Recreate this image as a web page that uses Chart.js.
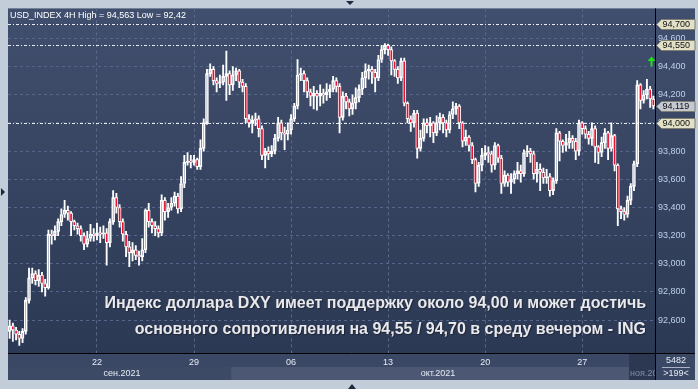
<!DOCTYPE html>
<html><head><meta charset="utf-8">
<script src="https://cdn.jsdelivr.net/npm/chart.js@4.4.1/dist/chart.umd.min.js"></script>
<style>html,body{margin:0;padding:0;background:#c3cdd9;overflow:hidden}canvas{display:block}</style>
</head><body>
<canvas id="c" width="698" height="389" style="width:698px;height:389px"></canvas>
<script>
// ---- DATA (USD_INDEX 4H) ----
const opens=[92.52,92.56,92.53,92.50,92.47,92.52,92.74,92.90,92.93,92.88,
92.92,92.86,92.83,93.21,93.20,93.23,93.30,93.35,93.38,93.36,
93.30,93.27,93.25,93.20,93.14,93.18,93.21,93.20,93.22,93.21,
93.22,93.15,93.30,93.47,93.40,93.30,93.21,93.12,93.08,93.10,
93.06,93.05,93.10,93.38,93.30,93.27,93.25,93.22,93.45,93.37,
93.40,93.43,93.48,93.39,93.57,93.72,93.73,93.72,93.74,93.69,
93.82,94.00,94.35,94.38,94.30,94.28,94.29,94.33,94.35,94.27,
94.34,94.37,94.29,94.26,94.03,94.00,94.02,94.03,93.96,93.77,
93.80,93.78,93.80,93.89,94.00,93.93,93.92,93.95,94.03,94.12,
94.34,94.35,94.30,94.22,94.19,94.21,94.19,94.21,94.20,94.22,
94.24,94.30,94.26,94.04,94.19,94.15,94.10,94.14,94.18,94.24,
94.32,94.37,94.38,94.36,94.32,94.45,94.52,94.55,94.52,94.44,
94.38,94.32,94.44,94.14,94.03,94.00,94.07,93.82,93.89,94.00,
93.98,94.00,93.93,94.00,94.04,94.00,93.95,94.06,94.10,94.12,
94.00,93.87,93.90,93.84,93.74,93.57,93.70,93.77,93.79,93.78,
93.70,93.84,93.75,93.57,93.63,93.58,93.60,93.64,93.66,93.64,
93.79,93.80,93.78,93.64,93.67,93.65,93.61,93.62,93.52,93.59,
93.93,93.87,93.84,93.86,93.89,93.87,93.80,94.00,93.96,93.92,
93.89,93.96,93.83,93.79,93.86,93.93,93.82,93.91,93.70,93.39,
93.37,93.35,93.45,93.55,93.71,94.27,94.16,94.20,94.24,94.17];
const highs=[92.60,92.58,92.55,92.52,92.54,92.76,92.97,92.97,92.95,92.96,
92.94,92.89,93.24,93.24,93.27,93.32,93.39,93.45,93.41,93.37,
93.31,93.29,93.27,93.22,93.23,93.28,93.25,93.29,93.26,93.27,
93.25,93.32,93.52,93.50,93.42,93.32,93.23,93.16,93.15,93.13,
93.09,93.18,93.39,93.43,93.32,93.30,93.27,93.49,93.47,93.43,
93.47,93.51,93.50,93.62,93.77,93.79,93.77,93.77,93.75,93.88,
94.03,94.38,94.42,94.40,94.32,94.34,94.41,94.51,94.37,94.40,
94.39,94.38,94.31,94.28,94.06,94.05,94.07,94.05,93.98,93.82,
93.83,93.84,93.92,94.04,94.02,93.97,94.00,94.06,94.14,94.45,
94.39,94.37,94.32,94.24,94.26,94.23,94.27,94.24,94.28,94.27,
94.33,94.32,94.28,94.22,94.21,94.17,94.20,94.25,94.27,94.36,
94.42,94.41,94.40,94.38,94.48,94.55,94.563,94.56,94.54,94.45,
94.40,94.46,94.46,94.15,94.05,94.09,94.09,93.95,94.03,94.03,
94.04,94.01,94.05,94.07,94.06,94.02,94.08,94.15,94.14,94.13,
94.01,93.95,93.91,93.86,93.75,93.72,93.82,93.84,93.83,93.80,
93.86,93.85,93.77,93.66,93.64,93.64,93.66,93.72,93.70,93.81,
93.84,93.82,93.80,93.72,93.71,93.68,93.67,93.64,93.61,93.96,
93.94,93.88,93.92,93.94,93.91,93.89,94.02,94.01,93.98,93.94,
94.00,93.98,93.84,93.90,93.96,93.94,94.00,93.92,93.71,93.41,
93.40,93.48,93.57,93.73,94.30,94.28,94.23,94.31,94.26,94.19];
const lows=[92.47,92.45,92.46,92.42,92.44,92.50,92.72,92.86,92.85,92.84,
92.80,92.77,92.82,93.14,93.17,93.20,93.27,93.33,93.31,93.20,
93.24,93.21,93.16,93.10,93.12,93.16,93.16,93.17,93.15,93.18,
92.99,93.12,93.28,93.36,93.26,93.16,93.05,92.98,93.02,93.03,
92.99,93.02,93.08,93.26,93.22,93.20,93.19,93.20,93.31,93.33,
93.38,93.41,93.36,93.37,93.54,93.70,93.68,93.70,93.67,93.67,
93.80,93.99,94.33,94.27,94.22,94.25,94.27,94.16,94.20,94.23,
94.30,94.25,94.22,94.00,93.97,93.93,93.98,93.90,93.74,93.68,
93.74,93.76,93.78,93.87,93.88,93.81,93.88,93.92,94.01,94.10,
94.30,94.22,94.18,94.12,94.10,94.09,94.12,94.14,94.16,94.18,
94.22,94.22,93.93,94.02,94.10,94.05,94.06,94.10,94.15,94.20,
94.25,94.31,94.28,94.22,94.30,94.43,94.49,94.48,94.34,94.33,
94.28,94.30,94.12,94.00,93.94,93.97,93.75,93.80,93.87,93.93,
93.90,93.86,93.91,93.95,93.93,93.90,93.93,94.03,94.06,93.96,
93.83,93.84,93.80,93.71,93.51,93.55,93.66,93.74,93.72,93.65,
93.67,93.72,93.50,93.55,93.55,93.50,93.57,93.60,93.58,93.62,
93.76,93.72,93.60,93.58,93.52,93.57,93.57,93.48,93.49,93.57,
93.73,93.79,93.80,93.82,93.82,93.74,93.77,93.92,93.89,93.85,
93.84,93.72,93.71,93.76,93.82,93.74,93.80,93.66,93.27,93.32,
93.31,93.33,93.42,93.52,93.69,94.10,94.14,94.17,94.11,94.10];
const closes=[92.56,92.53,92.50,92.47,92.52,92.74,92.90,92.93,92.88,92.92,
92.86,92.83,93.21,93.20,93.23,93.30,93.35,93.38,93.36,93.30,
93.27,93.25,93.20,93.14,93.18,93.21,93.20,93.22,93.21,93.22,
93.15,93.30,93.47,93.40,93.30,93.21,93.12,93.08,93.10,93.06,
93.05,93.10,93.38,93.30,93.27,93.25,93.22,93.45,93.37,93.40,
93.43,93.48,93.39,93.57,93.72,93.73,93.72,93.74,93.69,93.82,
94.00,94.35,94.38,94.30,94.28,94.29,94.33,94.35,94.27,94.34,
94.37,94.29,94.26,94.03,94.00,94.02,94.03,93.96,93.77,93.80,
93.78,93.80,93.89,94.00,93.93,93.92,93.95,94.03,94.12,94.34,
94.35,94.30,94.22,94.19,94.21,94.19,94.21,94.20,94.22,94.24,
94.30,94.26,94.04,94.19,94.15,94.10,94.14,94.18,94.24,94.32,
94.37,94.38,94.36,94.32,94.45,94.52,94.55,94.52,94.44,94.38,
94.32,94.44,94.14,94.03,94.00,94.07,93.82,93.89,94.00,93.98,
94.00,93.93,94.00,94.04,94.00,93.95,94.06,94.10,94.12,94.00,
93.87,93.90,93.84,93.74,93.57,93.70,93.77,93.79,93.78,93.70,
93.84,93.75,93.57,93.63,93.58,93.60,93.64,93.66,93.64,93.79,
93.80,93.78,93.64,93.67,93.65,93.61,93.62,93.52,93.59,93.93,
93.87,93.84,93.86,93.89,93.87,93.80,94.00,93.96,93.92,93.89,
93.96,93.83,93.79,93.86,93.93,93.82,93.91,93.70,93.39,93.37,
93.35,93.45,93.55,93.71,94.27,94.16,94.20,94.24,94.17,94.12];

const xTickIndex=[27,57,87,117,147,177];
const xTickText=['22','29','06','13','20','27'];
const monthStartIndex=[0,69,192];
const monthText=['сен.2021','окт.2021','ноя.2021'];
const yTickValues=[92.6,92.8,93.0,93.2,93.4,93.6,93.8,94.0,94.2,94.4,94.6];
const levelLines=[94.70,94.55,94.00];
const lastPrice=94.119;
const titleText='USD_INDEX 4H High = 94,563 Low = 92,42';
const captionLines=['Индекс доллара DXY имеет поддержку около 94,00 и может достичь',
                    'основного сопротивления на 94,55 / 94,70 в среду вечером - ING'];
const cornerTexts=['5482','>199<'];

const categories=closes.map((_,i)=>String(i));
const FONT='"Liberation Sans", Arial, sans-serif';
const fmt=v=>v.toFixed(3).replace('.',',');

const upperWick=closes.map((c,i)=>[Math.max(opens[i],c),highs[i]]);
const lowerWick=closes.map((c,i)=>[lows[i],Math.min(opens[i],c)]);
const bodies=closes.map((c,i)=>[opens[i],c]);
const bodyFill=closes.map((c,i)=>c<opens[i]?'#ea1030':'rgba(0,0,0,0)');

const framePlugin={
  id:'frame',
  beforeDraw(chart){
    const ctx=chart.ctx,a=chart.chartArea,xs=chart.scales.x;
    ctx.save();
    ctx.fillStyle='#c3cdd9';ctx.fillRect(0,0,698,389);
    const g=ctx.createLinearGradient(0,a.top,0,a.bottom);
    g.addColorStop(0,'#414f6e');g.addColorStop(1,'#2c3954');
    ctx.fillStyle=g;ctx.fillRect(a.left,a.top,695-a.left,a.bottom-a.top);
    // x axis area
    ctx.fillStyle='#3b4865';ctx.fillRect(a.left,a.bottom,695-a.left,xs.bottom-a.bottom);
    const half=(xs.getPixelForValue(1)-xs.getPixelForValue(0))/2;
    const rowY=a.bottom+14;
    const segCols=['#3d4a66','#4b5773','#2c3852'];
    for(let k=0;k<monthStartIndex.length;k++){
      const x0=k===0?a.left:xs.getPixelForValue(monthStartIndex[k])-half;
      const x1=k+1<monthStartIndex.length?xs.getPixelForValue(monthStartIndex[k+1])-half:a.right;
      ctx.fillStyle=segCols[k];
      if(k===monthStartIndex.length-1){ctx.fillRect(x0,a.bottom,x1-x0,xs.bottom-a.bottom);}
      else ctx.fillRect(x0,rowY,x1-x0,xs.bottom-rowY);
    }
    ctx.restore();
  },
  beforeDatasetsDraw(chart){
    const ctx=chart.ctx,a=chart.chartArea,ys=chart.scales.y;
    ctx.save();
    ctx.strokeStyle='rgba(255,255,255,0.9)';ctx.lineWidth=1;ctx.setLineDash([3,2,1,2]);
    levelLines.forEach(v=>{
      const y=Math.round(ys.getPixelForValue(v))+0.5;
      ctx.beginPath();ctx.moveTo(a.left,y);ctx.lineTo(a.right,y);ctx.stroke();
    });
    ctx.restore();
  },
  afterDraw(chart){
    const ctx=chart.ctx,a=chart.chartArea,ys=chart.scales.y,xs=chart.scales.x;
    ctx.save();
    // separators
    ctx.strokeStyle='#000';ctx.lineWidth=1;ctx.setLineDash([]);
    ctx.beginPath();ctx.moveTo(Math.round(a.right)+0.5,a.top);ctx.lineTo(Math.round(a.right)+0.5,xs.bottom);ctx.stroke();
    ctx.beginPath();ctx.moveTo(a.left,Math.round(a.bottom)+0.5);ctx.lineTo(695,Math.round(a.bottom)+0.5);ctx.stroke();
    // title
    ctx.fillStyle='#ffffff';ctx.font='9px '+FONT;ctx.textBaseline='alphabetic';ctx.textAlign='left';
    ctx.fillText(titleText,10,17.5);
    // caption
    ctx.font='bold 16px '+FONT;ctx.textAlign='right';
    ctx.shadowColor='rgba(0,0,0,0.35)';ctx.shadowOffsetX=1;ctx.shadowOffsetY=1;ctx.shadowBlur=1;
    ctx.fillStyle='#e9e9ec';
    ctx.fillText(captionLines[0],646,307.5);
    ctx.fillText(captionLines[1],646,333.5);
    ctx.shadowColor='transparent';
    // month labels
    const half=(xs.getPixelForValue(1)-xs.getPixelForValue(0))/2;
    ctx.font='9px '+FONT;ctx.textAlign='center';ctx.textBaseline='middle';
    const centers=[122,438];
    ctx.fillStyle='#e6ecf5';
    ctx.fillText(monthText[0],centers[0],374);
    ctx.fillText(monthText[1],centers[1],374);
    ctx.save();ctx.beginPath();ctx.rect(0,0,a.right,389);ctx.clip();
    ctx.textAlign='left';ctx.fillStyle='#7f8ea8';
    ctx.fillText(monthText[2],xs.getPixelForValue(monthStartIndex[2])-half+1,374);
    ctx.restore();
    // corner box
    ctx.fillStyle='#e6ecf5';ctx.textAlign='center';
    ctx.fillText(cornerTexts[0],676,361);
    ctx.fillText(cornerTexts[1],676,374);
    ctx.strokeStyle='#aab4c6';ctx.beginPath();ctx.moveTo(662,367.5);ctx.lineTo(690,367.5);ctx.stroke();
    // price tags
    const tag=(v,fill,txt)=>{
      const y=Math.round(ys.getPixelForValue(v))+0.5;
      const x0=a.right+1.5;
      ctx.beginPath();
      ctx.moveTo(x0,y);ctx.lineTo(x0+5,y-5);ctx.lineTo(695,y-5);ctx.lineTo(695,y+5);ctx.lineTo(x0+5,y+5);ctx.closePath();
      ctx.fillStyle=fill;ctx.fill();
      ctx.strokeStyle='#7d7d70';ctx.lineWidth=1;ctx.stroke();
      ctx.fillStyle='#111';ctx.textAlign='left';ctx.textBaseline='middle';ctx.font='9px '+FONT;
      ctx.fillText(txt,x0+6,y+0.5);
    };
    levelLines.forEach(v=>tag(v,'#e2e0c6',fmt(v)));
    tag(lastPrice,'#c4c8d0',fmt(lastPrice));
    // green arrow
    ctx.fillStyle='#1ee01e';
    ctx.beginPath();ctx.moveTo(651.5,56.5);ctx.lineTo(655.5,61);ctx.lineTo(647.5,61);ctx.closePath();ctx.fill();
    ctx.fillRect(650.5,60,2,6);
    // navigation triangles
    ctx.fillStyle='#1d2940';
    ctx.beginPath();ctx.moveTo(346,1);ctx.lineTo(354,1);ctx.lineTo(350,5);ctx.closePath();ctx.fill();
    ctx.beginPath();ctx.moveTo(348,389);ctx.lineTo(356,389);ctx.lineTo(352,384);ctx.closePath();ctx.fill();
    ctx.beginPath();ctx.moveTo(1,188);ctx.lineTo(1,196);ctx.lineTo(5,192);ctx.closePath();ctx.fill();
    ctx.restore();
  }
};

new Chart(document.getElementById('c'),{
  type:'bar',
  data:{labels:categories,datasets:[
    {data:upperWick,backgroundColor:'#ffffff',barThickness:1.2,grouped:false,order:3},
    {data:lowerWick,backgroundColor:'#ffffff',barThickness:1.2,grouped:false,order:3},
    {data:bodies,backgroundColor:bodyFill,borderColor:'#ffffff',borderWidth:1,borderSkipped:false,
     barThickness:3,minBarLength:1,grouped:false,order:1}
  ]},
  options:{
    responsive:false,animation:false,devicePixelRatio:1,
    layout:{padding:{left:8,top:8,right:3,bottom:9}},
    plugins:{legend:{display:false},tooltip:{enabled:false}},
    scales:{
      x:{
        offset:true,
        grid:{offset:false,drawTicks:false,lineWidth:1,
          color:c=>xTickIndex.includes(c.index)?'#5a6988':'rgba(0,0,0,0)'},
        border:{display:false,dash:[3,3]},
        ticks:{autoSkip:false,maxRotation:0,minRotation:0,padding:4,color:'#e6ecf5',
          font:{family:FONT,size:9},
          callback:(v,i)=>{const k=xTickIndex.indexOf(i);return k>=0?xTickText[k]:'';}},
        afterFit:s=>{s.height=27;}
      },
      y:{
        position:'right',min:92.367,max:94.813,
        afterBuildTicks:s=>{s.ticks=yTickValues.map(v=>({value:v}));},
        grid:{drawTicks:false,color:'#56658a',lineWidth:1},
        border:{display:false,dash:[3,3]},
        ticks:{padding:3,color:'#bcd0ec',font:{family:FONT,size:9},callback:v=>fmt(v)},
        afterFit:s=>{s.width=40;}
      }
    }
  },
  plugins:[framePlugin]
});
</script>
</body></html>
